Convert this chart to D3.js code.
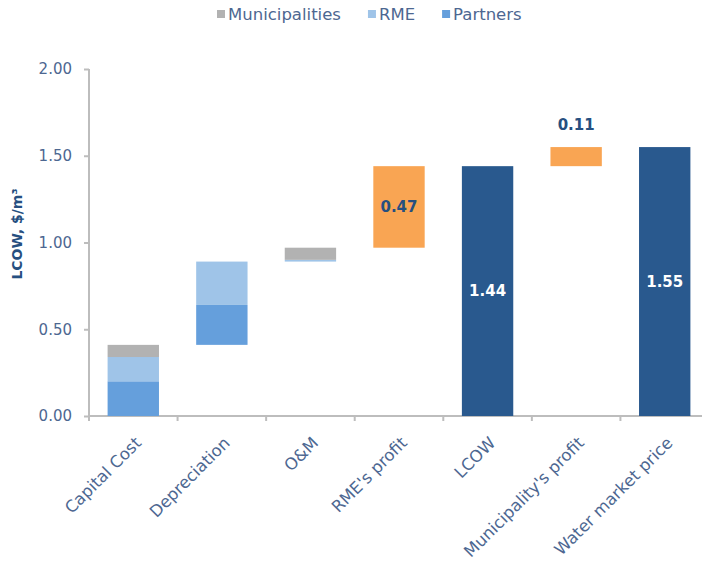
<!DOCTYPE html>
<meta charset="utf-8">
<style>
  body { margin: 0; background: #fff; }
  text { font-family: "DejaVu Sans", sans-serif; }
  .tick text { fill: #4d6791; font-size: 15px; }
  .x-axis .tick text { font-size: 16.5px; }
  .tick line, .domain { stroke: #bdbdbd; stroke-width: 2px; }
  .legend-label { fill: #4d6791; font-size: 16.5px; }
  .axis-title { fill: #264f80; font-size: 14px; font-weight: bold; }
  .bar-label { font-size: 15px; font-weight: bold; text-anchor: middle; }
</style>
<body>
<div id="vis"></div>
<script src="https://cdn.jsdelivr.net/npm/d3@7"></script>
<script>

const width = 702,
    height = 572;

// waterfall steps
const categories = ['Capital Cost', 'Depreciation', 'O&M', "RME's profit", 'LCOW', "Municipality's profit", 'Water market price'];
const partners = [0.20, 0.23, 0, 0, 0, 0, 0];
const rme = [0.14, 0.25, 0.01, 0, 0, 0, 0];
const municipalities = [0.07, 0, 0.07, 0, 0, 0, 0];
const profit = [0, 0, 0, 0.47, 0, 0.11, 0];
const totals = [0, 0, 0, 0, 1.44, 0, 1.55];
const yTicks = [0, 0.5, 1, 1.5, 2];

const legendKeys = ['Municipalities', 'RME', 'Partners'];
const colors = {
  'Partners': '#659fdc',
  'RME': '#9fc4e8',
  'Municipalities': '#b2b2b2',
  'profit': '#f9a553',
  'total': '#29598e'
};

let margin = {l: 89, r: -7, t: 69, b: 156};
let innerW = width - margin.l - margin.r;
let innerH = height - margin.t - margin.b;

let x = d3.scaleBand().domain(categories).range([0, innerW]).paddingInner(0.42).paddingOuter(0.21);
let y = d3.scaleLinear().domain([0, 2]).range([innerH, 0]);

// build segments: each one has a bottom and top value
let segs = [];
let running = 0;
categories.forEach((c, i) => {
  if (totals[i] > 0) {
    segs.push({cat: c, y0: 0, y1: totals[i], color: colors.total, label: totals[i], labelColor: '#fff', inside: true});
    running = totals[i];
    return;
  }
  [['Partners', partners], ['RME', rme], ['Municipalities', municipalities]].forEach(([k, arr]) => {
    if (arr[i] > 0) {
      segs.push({cat: c, y0: running, y1: running + arr[i], color: colors[k]});
      running += arr[i];
    }
  });
  if (profit[i] > 0) {
    segs.push({cat: c, y0: running, y1: running + profit[i], color: colors.profit, label: profit[i], labelColor: '#264f80', inside: profit[i] > 0.2});
    running += profit[i];
  }
});

let svg = d3.select('#vis').append('svg')
    .attr('width', width)
    .attr('height', height);

let g = svg.append('g')
    .attr('transform', 'translate(' + [margin.l, margin.t] + ')');

// axes
let yAxis = g.append('g')
    .call(d3.axisLeft(y).tickValues(yTicks).tickSize(5).tickPadding(12).tickFormat(d3.format('.2f')));
yAxis.select('.domain').attr('d', 'M0,0V' + innerH);

let xAxis = g.append('g')
    .attr('class', 'x-axis')
    .attr('transform', 'translate(0,' + innerH + ')')
    .call(d3.axisBottom(x).tickSize(0).tickPadding(0));
xAxis.select('.domain').attr('d', 'M0,0H' + innerW);
xAxis.selectAll('.tick line').remove();
xAxis.selectAll('.tick text')
    .attr('text-anchor', 'end')
    .attr('dy', 0)
    .attr('transform', 'translate(9,28) rotate(-45)');

// band separators on x axis
g.append('g').selectAll('line')
    .data(categories)
    .enter().append('line')
    .attr('x1', d => x(d) - x.step() * x.paddingInner() / 2)
    .attr('x2', d => x(d) - x.step() * x.paddingInner() / 2)
    .attr('y1', innerH)
    .attr('y2', innerH + 5)
    .style('stroke', '#bdbdbd')
    .style('stroke-width', 2);

// bars
g.append('g').selectAll('rect')
    .data(segs)
    .enter().append('rect')
    .attr('x', d => x(d.cat))
    .attr('width', x.bandwidth())
    .attr('y', d => y(d.y1))
    .attr('height', d => y(d.y0) - y(d.y1))
    .style('fill', d => d.color);

g.append('g').selectAll('text')
    .data(segs.filter(d => d.label))
    .enter().append('text')
    .attr('class', 'bar-label')
    .attr('x', d => x(d.cat) + x.bandwidth() / 2)
    .attr('y', d => d.inside ? y((d.y0 + d.y1) / 2) : y(d.y1) - 22)
    .attr('dy', '0.36em')
    .style('fill', d => d.inside ? d.labelColor : '#264f80')
    .text(d => d3.format('.2f')(d.label));

// y axis title
svg.append('text')
    .attr('class', 'axis-title')
    .attr('transform', 'translate(22,234) rotate(-90)')
    .attr('text-anchor', 'middle')
    .text('LCOW, $/m³');

// legend
let lx = 217;
let legend = svg.append('g');
legendKeys.forEach(k => {
  legend.append('rect')
      .attr('x', lx).attr('y', 10)
      .attr('width', 8).attr('height', 8)
      .style('fill', colors[k]);
  let t = legend.append('text')
      .attr('class', 'legend-label')
      .attr('x', lx + 11).attr('y', 20)
      .text(k);
  lx += 11 + t.node().getComputedTextLength() + 27;
});

</script>
</body>
